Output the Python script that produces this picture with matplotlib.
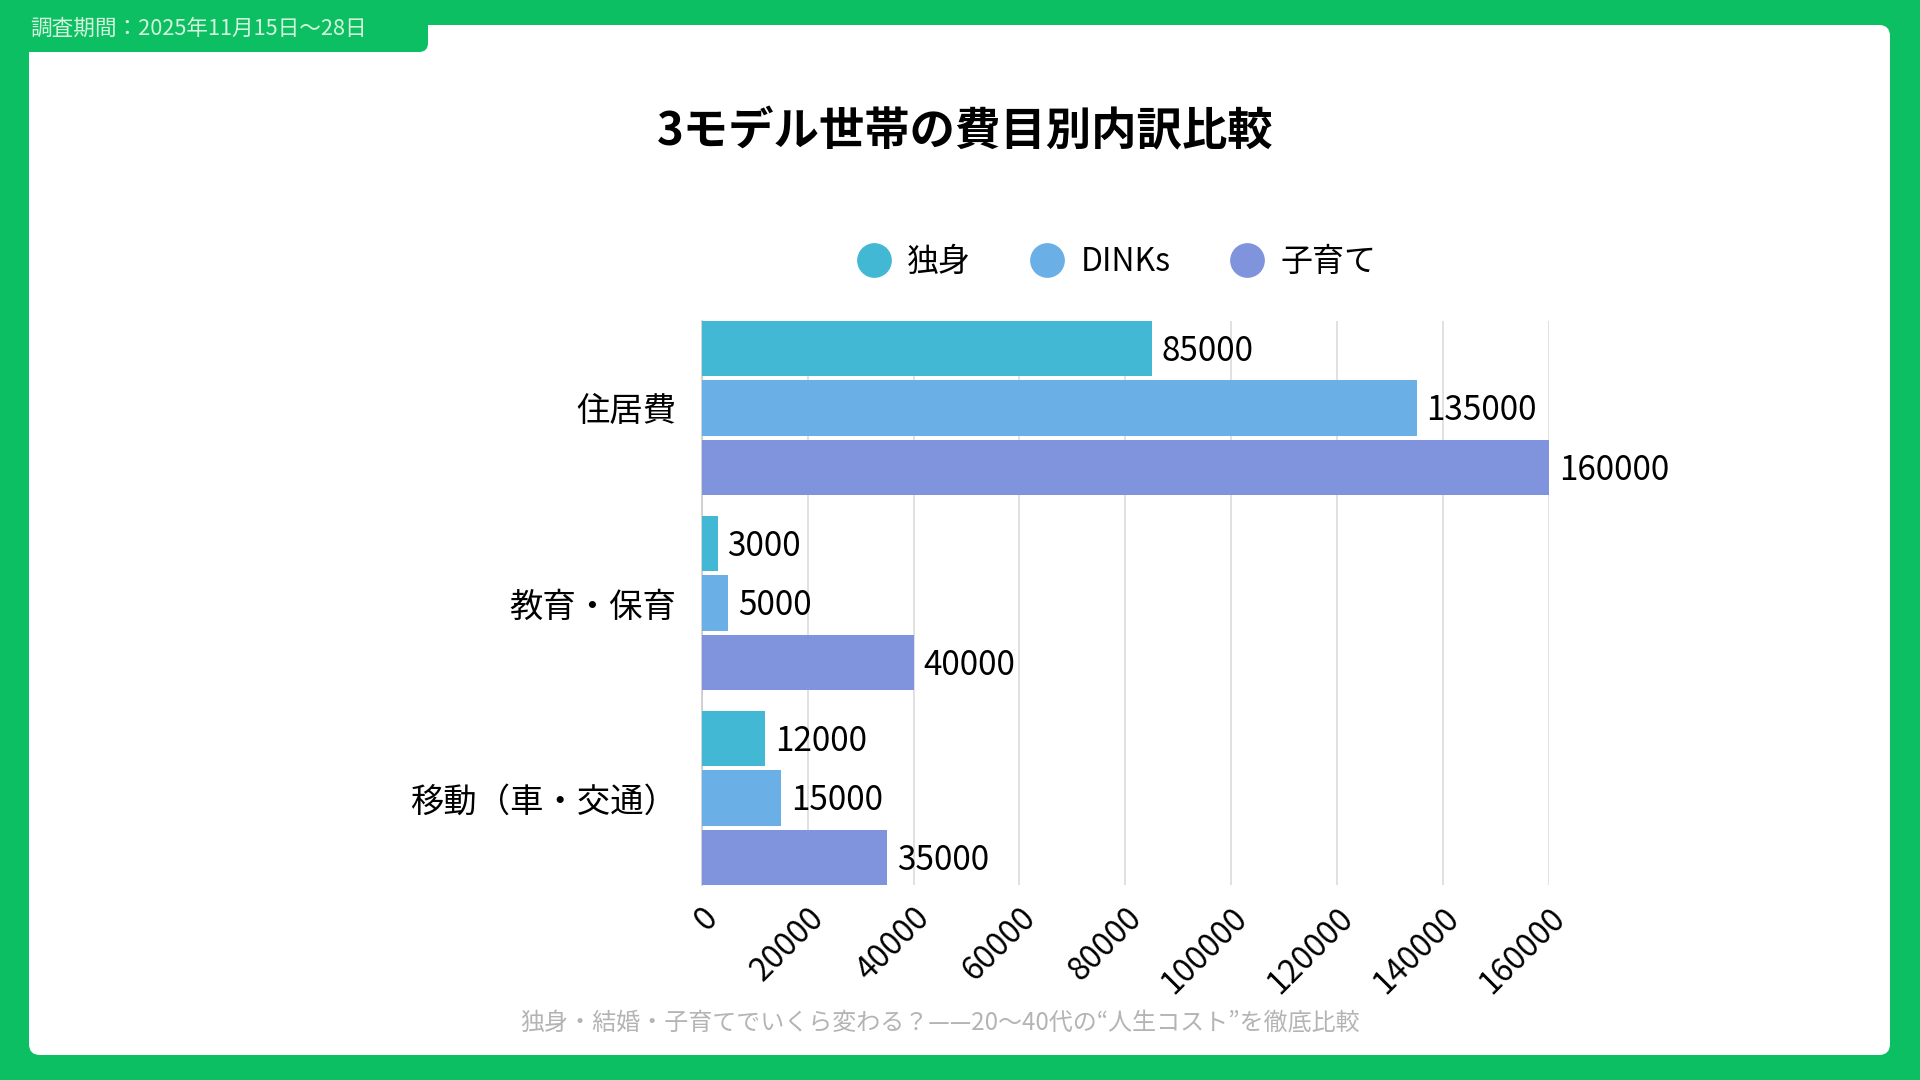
import matplotlib
matplotlib.use("Agg")
import matplotlib.pyplot as plt
from matplotlib.lines import Line2D
from matplotlib.patches import FancyBboxPatch
import numpy as np

plt.rcParams["font.family"] = ["Noto Sans CJK JP", "DejaVu Sans"]

# --- donnees du graphique ---
categories = ["住居費", "教育・保育", "移動（車・交通）"]
series_names = ["独身", "DINKs", "子育て"]
single = [85000, 3000, 12000]
dinks = [135000, 5000, 15000]
parenting = [160000, 40000, 35000]
x_ticks = [0, 20000, 40000, 60000, 80000, 100000, 120000, 140000, 160000]

title = "3モデル世帯の費目別内訳比較"
period = "調査期間：2025年11月15日〜28日"
footer = "独身・結婚・子育てでいくら変わる？——20〜40代の“人生コスト”を徹底比較"

# --- styles ---
GREEN = "#0BBF62"
colors = ["#42B8D5", "#6AAFE5", "#7F94DD"]
W, H = 1920, 1080

fig = plt.figure(figsize=(W / 100, H / 100), dpi=100)
fig.patch.set_facecolor(GREEN)

# fond: carte blanche + onglet vert en pixels
bg = fig.add_axes([0, 0, 1, 1], zorder=0)
bg.set_xlim(0, W)
bg.set_ylim(H, 0)
bg.axis("off")
bg.add_patch(FancyBboxPatch((29, 25), 1861, 1030, boxstyle="round,pad=0,rounding_size=11",
                            fc="white", ec="none"))
bg.add_patch(FancyBboxPatch((-20, -30), 448, 82, boxstyle="round,pad=0,rounding_size=9",
                            fc=GREEN, ec="none"))
bg.text(30, 29, period, color="#d6f5df", fontsize=15.6, va="center", ha="left")

fig.text(965 / W, 1 - 132.5 / H, title, ha="center", va="center", fontsize=32.7,
         fontweight="bold")

# graphique principal
ax = fig.add_axes([701.7 / W, 1 - 885.3 / H, 847.3 / W, 564.6 / H], zorder=2)
ax.patch.set_alpha(0)
y = np.arange(len(categories))
pas = 0.3047
epaisseur = 0.2843
for i, (nom, valeurs) in enumerate(zip(series_names, [single, dinks, parenting])):
    barres = ax.barh(y + (i - 1) * pas, valeurs, height=epaisseur, color=colors[i],
                     label=nom, zorder=3)
    etiquettes = ax.bar_label(barres, padding=7, fontsize=24)
    for t in etiquettes:
        t.set_y(-2)  # leger decalage vers le bas, comme la reference

ax.set_ylim(2 + pas + epaisseur / 2, -(pas + epaisseur / 2))
ax.set_xlim(0, 160000)
ax.set_xticks(x_ticks)
ax.set_xticklabels([str(t) for t in x_ticks], rotation=45, ha="right", va="top",
                   rotation_mode="anchor", fontsize=23)
ax.set_yticks(y, categories, fontsize=24)
ax.tick_params(axis="both", length=0)
ax.tick_params(axis="y", pad=18)
ax.tick_params(axis="x", pad=12)
ax.grid(axis="x", color="#dcdcdc", linewidth=1.2, zorder=0)
ax.set_axisbelow(True)
for cote in ["top", "right", "bottom"]:
    ax.spines[cote].set_visible(False)
ax.spines["left"].set_color("#cccccc")
ax.spines["left"].set_linewidth(1.2)

handles = [Line2D([], [], marker="o", linestyle="", markersize=24,
                  markerfacecolor=c, markeredgecolor=c) for c in colors]
fig.legend(handles, series_names, loc="center", bbox_to_anchor=(0.5817, 0.7572), ncol=3,
           frameon=False, fontsize=23, handlelength=1.0, handletextpad=0.55,
           columnspacing=1.88, borderaxespad=0)

fig.text(940.4 / W, 1 - 1022.5 / H, footer, color="#b4b4b4", fontsize=17.3, ha="center",
         va="center")

fig.savefig("out.png", dpi=100, facecolor=GREEN)
